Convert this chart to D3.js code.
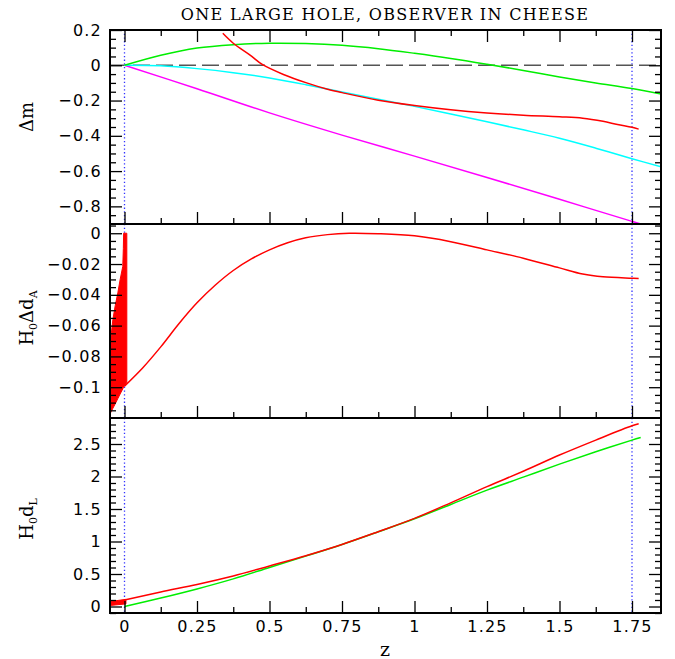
<!DOCTYPE html>
<html>
<head>
<meta charset="utf-8">
<script src="https://cdn.jsdelivr.net/npm/d3@7/dist/d3.min.js"></script>
<style>
  html, body { margin: 0; padding: 0; background: #fff; }
  svg { display: block; }
  .tick text { font-family: "DejaVu Sans", sans-serif; font-size: 16px; letter-spacing: 1.2px; fill: #000; }
  .tick line { stroke: #000; stroke-width: 1.3; }
</style>
</head>
<body>
<svg id="chart" width="675" height="659"></svg>
<script>
// ---------------- data ----------------
const title = "ONE LARGE HOLE, OBSERVER IN CHEESE";

// x axis
const zMajor = [0, 0.25, 0.5, 0.75, 1, 1.25, 1.5, 1.75];
const zMajorLabels = ["0", "0.25", "0.5", "0.75", "1", "1.25", "1.5", "1.75"];
const zMinor = [0.125, 0.375, 0.625, 0.875, 1.125, 1.375, 1.625];
const zMarkers = [0, 1.75];

// top panel: Δm
const dmMajor = [0.2, 0, -0.2, -0.4, -0.6, -0.8];
const dmMajorLabels = ["0.2", "0", "\u22120.2", "\u22120.4", "\u22120.6", "\u22120.8"];
const dmMinor = [0.15, 0.1, 0.05, -0.05, -0.1, -0.15, -0.25, -0.3, -0.35, -0.45, -0.5, -0.55,
                 -0.65, -0.7, -0.75, -0.85];

const dmZ = [0, 0.125, 0.25, 0.375, 0.5, 0.625, 0.75, 0.875, 1, 1.125, 1.25, 1.375, 1.5, 1.625, 1.75, 1.85];
const dmGreen = [0, 0.057, 0.098, 0.117, 0.125, 0.123, 0.113, 0.094, 0.068, 0.039, 0.006, -0.029, -0.066, -0.1, -0.132, -0.163];
const dmCyan  = [0, -0.003, -0.019, -0.042, -0.072, -0.11, -0.152, -0.193, -0.233, -0.276, -0.32, -0.366, -0.414, -0.47, -0.53, -0.575];

const magZ   = [0, 0.25, 0.5, 0.75, 1, 1.25, 1.5, 1.75, 1.79];
const dmMagenta = [0, -0.133, -0.27, -0.396, -0.515, -0.636, -0.76, -0.885, -0.905];

const redTopZ = [0.339, 0.375, 0.433, 0.475, 0.548, 0.628, 0.7, 0.75, 0.875, 1, 1.125, 1.25, 1.375, 1.5, 1.58, 1.65, 1.7, 1.75, 1.773];
const dmRed   = [0.181, 0.125, 0.058, 0.005, -0.052, -0.1, -0.136, -0.155, -0.198, -0.228, -0.252, -0.27, -0.283, -0.292, -0.3, -0.318, -0.336, -0.352, -0.362];

// middle panel: H0 Δd_A
const daMajor = [0, -0.02, -0.04, -0.06, -0.08, -0.1];
const daMajorLabels = ["0", "\u22120.02", "\u22120.04", "\u22120.06", "\u22120.08", "\u22120.1"];
const daMinor = [0.005, -0.005, -0.01, -0.015, -0.025, -0.03, -0.035, -0.045, -0.05, -0.055,
                 -0.065, -0.07, -0.075, -0.085, -0.09, -0.095, -0.105, -0.11, -0.115];

const daZ   = [0, 0.0625, 0.125, 0.1875, 0.25, 0.3125, 0.375, 0.4375, 0.5, 0.5625, 0.625, 0.7, 0.775, 0.875, 1, 1.125, 1.25, 1.375, 1.5, 1.58, 1.65, 1.75, 1.773];
const daRed = [-0.0993, -0.0875, -0.0738, -0.0588, -0.0452, -0.0338, -0.0242, -0.0167, -0.0108, -0.0062, -0.003, -0.0009, 0, -0.0003, -0.0017, -0.0055, -0.0108, -0.0162, -0.0225, -0.0265, -0.0283, -0.0292, -0.0294];

// oscillating region for z < 0 (envelope of the rapidly oscillating red curve)
const daOscZ     = [-0.052, -0.046, -0.04, -0.032, -0.023, -0.015, -0.006, -0.004, -0.003, 0.008];
const daOscUpper = [-0.0766, -0.066, -0.056, -0.047, -0.0387, -0.030, -0.0216, -0.01, 0, 0];
const daOscLower = [-0.118, -0.1159, -0.1137, -0.1108, -0.1074, -0.1044, -0.1011, -0.1004, -0.1, -0.097];

// bottom panel: H0 d_L
const dlMajor = [0, 0.5, 1, 1.5, 2, 2.5];
const dlMajorLabels = ["0", "0.5", "1", "1.5", "2", "2.5"];
const dlMinor = [-0.1, 0.1, 0.2, 0.3, 0.4, 0.6, 0.7, 0.8, 0.9, 1.1, 1.2, 1.3, 1.4, 1.6, 1.7, 1.8, 1.9,
                 2.1, 2.2, 2.3, 2.4, 2.6, 2.7, 2.8];

const dlZ     = [0, 0.125, 0.25, 0.375, 0.5, 0.625, 0.75, 0.875, 1, 1.125, 1.25, 1.375, 1.5, 1.625, 1.75, 1.78];
const dlGreen = [0, 0.13, 0.27, 0.425, 0.6, 0.775, 0.955, 1.15, 1.35, 1.57, 1.79, 1.99, 2.19, 2.38, 2.56, 2.6];
const dlRedZ  = [0, 0.125, 0.25, 0.375, 0.5, 0.625, 0.75, 0.875, 1, 1.125, 1.25, 1.375, 1.5, 1.625, 1.75, 1.773];
const dlRed   = [0.1, 0.224, 0.34, 0.47, 0.624, 0.782, 0.955, 1.151, 1.356, 1.595, 1.845, 2.08, 2.33, 2.56, 2.78, 2.81];

const dlOscZ     = [-0.052, 0.005];
const dlOscUpper = [0.075, 0.11];
const dlOscLower = [0.015, 0.04];

// ---------------- drawing ----------------
const svg = d3.select("#chart");
const X0 = 110, X1 = 661;
const x = d3.scaleLinear().domain([-0.05, 1.85]).range([X0, X1]);

const panels = [
  { id: "p1", domain: [-0.9, 0.2],    range: [224, 30] },
  { id: "p2", domain: [-0.12, 0.006], range: [418, 224] },
  { id: "p3", domain: [-0.1, 2.9],    range: [613, 418] }
];
panels.forEach(p => { p.y = d3.scaleLinear().domain(p.domain).range(p.range); });

const defs = svg.append("defs");
panels.forEach(p => {
  defs.append("clipPath").attr("id", "clip-" + p.id)
    .append("rect").attr("x", X0).attr("y", p.range[1])
    .attr("width", X1 - X0).attr("height", p.range[0] - p.range[1]);
});

function line(xs, ys, yScale) {
  const pts = xs.map((v, i) => [v, ys[i]]);
  return d3.line().x(d => x(d[0])).y(d => yScale(d[1])).curve(d3.curveCatmullRom.alpha(0.5))(pts);
}
function band(xs, lo, hi, yScale) {
  const pts = xs.map((v, i) => [v, lo[i], hi[i]]);
  return d3.area().x(d => x(d[0])).y0(d => yScale(d[1])).y1(d => yScale(d[2]))(pts);
}

function drawPanel(p, opts) {
  const g = svg.append("g");
  const plot = g.append("g").attr("clip-path", "url(#clip-" + p.id + ")");
  zMarkers.forEach(z => {
    plot.append("line").attr("x1", x(z)).attr("x2", x(z))
      .attr("y1", p.range[1]).attr("y2", p.range[0])
      .attr("stroke", "#3333ff").attr("stroke-width", 1.3).attr("stroke-dasharray", "1.3,2.4");
  });
  opts.draw(plot, p.y);

  const yl = d3.axisLeft(p.y).tickValues(opts.major).tickFormat((d, i) => opts.labels[i]).tickSize(-12).tickPadding(8);
  const ylm = d3.axisLeft(p.y).tickValues(opts.minor).tickFormat("").tickSize(-6);
  const yr = d3.axisRight(p.y).tickValues(opts.major).tickFormat("").tickSize(-12);
  const yrm = d3.axisRight(p.y).tickValues(opts.minor).tickFormat("").tickSize(-6);
  g.append("g").attr("transform", `translate(${X0},0)`).call(yl);
  g.append("g").attr("transform", `translate(${X0},0)`).call(ylm);
  g.append("g").attr("transform", `translate(${X1},0)`).call(yr);
  g.append("g").attr("transform", `translate(${X1},0)`).call(yrm);

  const xb = d3.axisBottom(x).tickValues(zMajor).tickSize(-12).tickPadding(8)
    .tickFormat((d, i) => opts.xLabels ? zMajorLabels[i] : "");
  const xbm = d3.axisBottom(x).tickValues(zMinor).tickFormat("").tickSize(-6);
  g.append("g").attr("transform", `translate(0,${p.range[0]})`).call(xb);
  g.append("g").attr("transform", `translate(0,${p.range[0]})`).call(xbm);
  if (opts.topTicks) {
    const xt = d3.axisTop(x).tickValues(zMajor).tickFormat("").tickSize(-12);
    const xtm = d3.axisTop(x).tickValues(zMinor).tickFormat("").tickSize(-6);
    g.append("g").attr("transform", `translate(0,${p.range[1]})`).call(xt);
    g.append("g").attr("transform", `translate(0,${p.range[1]})`).call(xtm);
  }
  g.selectAll(".domain").remove();
  g.append("rect").attr("x", X0).attr("y", p.range[1])
    .attr("width", X1 - X0).attr("height", p.range[0] - p.range[1])
    .attr("fill", "none").attr("stroke", "#000").attr("stroke-width", 2);
}

const LW = 1.5;

drawPanel(panels[0], {
  major: dmMajor, labels: dmMajorLabels, minor: dmMinor, topTicks: true,
  draw: (g, y) => {
    g.append("line").attr("x1", X0).attr("x2", X1).attr("y1", y(0)).attr("y2", y(0))
      .attr("stroke", "#555").attr("stroke-width", 1.6).attr("stroke-dasharray", "17,6");
    g.append("path").attr("d", line(magZ, dmMagenta, y)).attr("fill", "none").attr("stroke", "#ff00ff").attr("stroke-width", LW);
    g.append("path").attr("d", line(dmZ, dmCyan, y)).attr("fill", "none").attr("stroke", "#00ffff").attr("stroke-width", LW);
    g.append("path").attr("d", line(dmZ, dmGreen, y)).attr("fill", "none").attr("stroke", "#00ee00").attr("stroke-width", LW);
    g.append("path").attr("d", line(redTopZ, dmRed, y)).attr("fill", "none").attr("stroke", "#ff0000").attr("stroke-width", LW);
  }
});

drawPanel(panels[1], {
  major: daMajor, labels: daMajorLabels, minor: daMinor,
  draw: (g, y) => {
    g.append("path").attr("d", band(daOscZ, daOscLower, daOscUpper, y)).attr("fill", "#ff0000").attr("stroke", "#ff0000").attr("stroke-width", 1);
    g.append("path").attr("d", line(daZ, daRed, y)).attr("fill", "none").attr("stroke", "#ff0000").attr("stroke-width", LW);
  }
});

drawPanel(panels[2], {
  major: dlMajor, labels: dlMajorLabels, minor: dlMinor, xLabels: true,
  draw: (g, y) => {
    g.append("path").attr("d", band(dlOscZ, dlOscLower, dlOscUpper, y)).attr("fill", "#ff0000").attr("stroke", "#ff0000").attr("stroke-width", 1);
    g.append("path").attr("d", line(dlZ, dlGreen, y)).attr("fill", "none").attr("stroke", "#00ee00").attr("stroke-width", LW);
    g.append("path").attr("d", line(dlRedZ, dlRed, y)).attr("fill", "none").attr("stroke", "#ff0000").attr("stroke-width", LW);
  }
});

// title
svg.append("text").attr("x", 385).attr("y", 20).attr("text-anchor", "middle")
  .attr("font-family", "DejaVu Serif, serif").attr("font-size", 16).attr("letter-spacing", 1.3).text(title);

// x label
svg.append("text").attr("x", 385).attr("y", 656).attr("text-anchor", "middle")
  .attr("font-family", "DejaVu Serif, serif").attr("font-size", 19).text("z");

// y labels
function ylabel(cx, cy, parts) {
  const t = svg.append("text").attr("transform", `translate(${cx},${cy}) rotate(-90)`)
    .attr("text-anchor", "middle").attr("font-family", "DejaVu Serif, serif").attr("font-size", 18);
  parts.forEach(pt => {
    const s = t.append("tspan").text(pt.t);
    if (pt.sub) s.attr("font-size", 11).attr("dy", 4);
    if (pt.up) s.attr("dy", -4);
  });
}
ylabel(33, 117, [{ t: "\u0394m" }]);
ylabel(33, 318, [{ t: "H" }, { t: "0", sub: true }, { t: "\u0394d", up: true }, { t: "A", sub: true }]);
ylabel(33, 519, [{ t: "H" }, { t: "0", sub: true }, { t: "d", up: true }, { t: "L", sub: true }]);
</script>
</body>
</html>
